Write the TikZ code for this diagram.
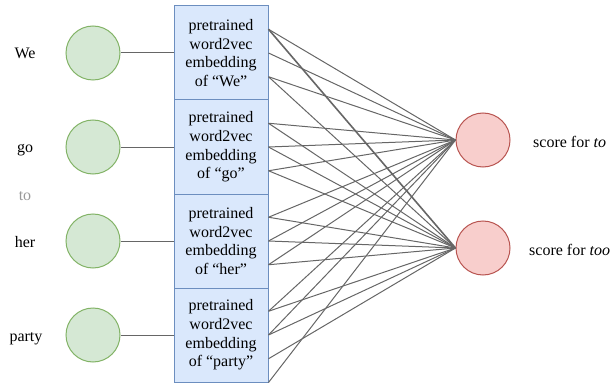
\documentclass[tikz,border=0pt]{standalone}
\usepackage{fontspec}
\setmainfont{Liberation Serif}
\usetikzlibrary{calc}
\definecolor{gfill}{HTML}{D5E8D4}
\definecolor{gline}{HTML}{82B366}
\definecolor{bfill}{HTML}{DAE8FC}
\definecolor{bline}{HTML}{6C8EBF}
\definecolor{rfill}{HTML}{F8CECC}
\definecolor{rline}{HTML}{B85450}
\definecolor{edgec}{HTML}{666666}
\definecolor{graytxt}{HTML}{999999}
\tikzset{
  gcirc/.style={circle, draw=gline, fill=gfill, line width=1pt, minimum size=54pt, inner sep=0pt},
  rcirc/.style={circle, draw=rline, fill=rfill, line width=1pt, minimum size=54pt, inner sep=0pt},
  ebox/.style={rectangle, draw=bline, fill=bfill, line width=1pt, minimum width=94pt, minimum height=94pt, inner sep=0pt, align=center, font=\fontsize{16}{18.7}\selectfont},
  wlabel/.style={anchor=base, inner sep=0pt, font=\fontsize{16}{19}\selectfont},
  slabel/.style={anchor=base west, inner sep=0pt, font=\fontsize{16}{19}\selectfont},
  conn/.style={draw=edgec, line width=1pt},
}
\begin{document}
\begin{tikzpicture}[x=1pt,y=-1pt]
\useasboundingbox (0,0) rectangle (610,385);
% word labels
\node[wlabel] (lwe) at (25,59) {We};
\node[wlabel] (lgo) at (25,153) {go};
\node[wlabel, text=graytxt] (lto) at (25,200) {to};
\node[wlabel] (lher) at (25,247) {her};
\node[wlabel] (lparty) at (26,341) {party};
% input circles
\node[gcirc] (g1) at (93,53) {};
\node[gcirc] (g2) at (93,147) {};
\node[gcirc] (g3) at (93,241) {};
\node[gcirc] (g4) at (93,335) {};
% embedding boxes
\node[ebox] (b1) at (221,53) {pretrained\\word2vec\\embedding\\of “We”};
\node[ebox] (b2) at (221,147) {pretrained\\word2vec\\embedding\\of “go”};
\node[ebox] (b3) at (221,241) {pretrained\\word2vec\\embedding\\of “her”};
\node[ebox] (b4) at (221,335) {pretrained\\word2vec\\embedding\\of “party”};
% output circles
\node[rcirc] (r1) at (483,140) {};
\node[rcirc] (r2) at (483,248) {};
\node[slabel] (s1) at (533,147) {score for \textit{to}};
\node[slabel] (s2) at (529,255) {score for \textit{too}};
% input connections
\foreach \i in {1,2,3,4}{
  \path[conn] (g\i.east) -- (b\i.west);
}
% connections to output
\foreach \b/\f/\r in {b1/0.25/r1, b1/0.5/r1, b1/0.75/r1, b1/0.75/r2,
                      b2/0.25/r1, b2/0.5/r1, b2/0.75/r1, b2/0.25/r2, b2/0.5/r2, b2/0.75/r2,
                      b3/0.25/r1, b3/0.5/r1, b3/0.75/r1, b3/0.25/r2, b3/0.5/r2, b3/0.75/r2,
                      b4/0.25/r1, b4/0.5/r1, b4/1/r1, b4/0.25/r2, b4/0.5/r2, b4/0.75/r2}{
  \path[conn] ($(\b.north east)!\f!(\b.south east)$) -- (\r.west);
}
\path[conn, line width=1.6pt] ($(b1.north east)!0.25!(b1.south east)$) -- (r2.west);
\end{tikzpicture}
\end{document}
